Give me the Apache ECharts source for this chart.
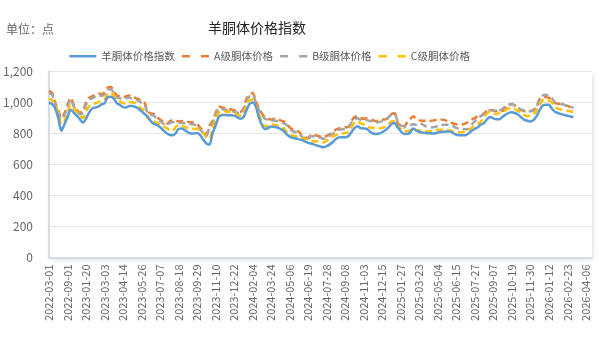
<!DOCTYPE html>
<html>
<head>
<meta charset="utf-8">
<script src="https://cdn.jsdelivr.net/npm/echarts@6/dist/echarts.min.js"></script>
<style>
  html, body { margin: 0; padding: 0; background: #fff; }
  #chart { width: 606px; height: 340px; }
</style>
</head>
<body>
<div id="chart"></div>
<script>
// Weekly (early period monthly) report dates
const dates = [
  '2022-03-01','2022-04-01','2022-05-01','2022-06-01','2022-07-01','2022-08-01',
  '2022-09-01','2022-10-01','2022-11-01','2022-12-01','2023-01-06','2023-01-13',
  '2023-01-20','2023-01-27','2023-02-03','2023-02-10','2023-02-17','2023-02-24',
  '2023-03-03','2023-03-10','2023-03-17','2023-03-24','2023-03-31','2023-04-07',
  '2023-04-14','2023-04-21','2023-04-28','2023-05-05','2023-05-12','2023-05-19',
  '2023-05-26','2023-06-02','2023-06-09','2023-06-16','2023-06-23','2023-06-30',
  '2023-07-07','2023-07-14','2023-07-21','2023-07-28','2023-08-04','2023-08-11',
  '2023-08-18','2023-08-25','2023-09-01','2023-09-08','2023-09-15','2023-09-22',
  '2023-09-29','2023-10-06','2023-10-13','2023-10-20','2023-10-27','2023-11-03',
  '2023-11-10','2023-11-17','2023-11-24','2023-12-01','2023-12-08','2023-12-15',
  '2023-12-22','2023-12-29','2024-01-05','2024-01-12','2024-01-19','2024-01-26',
  '2024-02-04','2024-02-18','2024-02-25','2024-03-03','2024-03-10','2024-03-17',
  '2024-03-24','2024-03-31','2024-04-07','2024-04-14','2024-04-21','2024-04-28',
  '2024-05-06','2024-05-13','2024-05-20','2024-05-27','2024-06-03','2024-06-11',
  '2024-06-19','2024-06-24','2024-06-30','2024-07-07','2024-07-14','2024-07-21',
  '2024-07-28','2024-08-04','2024-08-11','2024-08-18','2024-08-25','2024-09-01',
  '2024-09-08','2024-09-15','2024-09-22','2024-10-13','2024-10-20','2024-10-27',
  '2024-11-03','2024-11-10','2024-11-17','2024-11-24','2024-12-01','2024-12-08',
  '2024-12-15','2024-12-22','2024-12-29','2025-01-05','2025-01-12','2025-01-19',
  '2025-01-27','2025-02-16','2025-02-23','2025-03-02','2025-03-09','2025-03-16',
  '2025-03-23','2025-03-30','2025-04-06','2025-04-13','2025-04-20','2025-04-27',
  '2025-05-04','2025-05-11','2025-05-18','2025-05-25','2025-06-01','2025-06-08',
  '2025-06-15','2025-06-22','2025-06-29','2025-07-06','2025-07-13','2025-07-20',
  '2025-07-27','2025-08-03','2025-08-10','2025-08-17','2025-08-24','2025-08-31',
  '2025-09-07','2025-09-14','2025-09-21','2025-09-28','2025-10-05','2025-10-12',
  '2025-10-19','2025-10-26','2025-11-02','2025-11-09','2025-11-16','2025-11-23',
  '2025-11-30','2025-12-07','2025-12-14','2025-12-21','2025-12-28','2026-01-05',
  '2026-01-12','2026-01-19','2026-01-26','2026-02-02','2026-02-09','2026-02-16',
  '2026-02-23','2026-03-02','2026-03-09','2026-03-16','2026-03-23','2026-03-30',
  '2026-04-06','2026-04-13','2026-04-20'
];

// 羊胴体价格指数
const indexValues = [
  1000, 990, 962, 900, 818, 860, 905, 953, 935, 915,
  892, 870, 895, 935, 962, 968, 973, 988, 995, 1033,
  1037, 1025, 995, 985, 970, 968, 978, 978, 972, 960,
  943, 925, 908, 880, 862, 855, 840, 822, 803, 792,
  788, 800, 830, 832, 822, 808, 800, 800, 803, 790,
  760, 735, 728, 800, 850, 905, 920, 920, 918, 918,
  915, 905, 895, 905, 950, 990, 1000, 975, 905, 855,
  828, 835, 845, 842, 838, 830, 818, 795, 780, 772,
  768, 762, 758, 748, 740, 735, 728, 722, 716, 711,
  718, 730, 745, 765, 775, 776, 776, 782, 808, 835,
  847, 835, 833, 830, 812, 800, 797, 800, 808, 822,
  838, 862, 868, 840, 815, 798, 797, 805, 832, 820,
  810, 806, 803, 802, 800, 800, 806, 810, 812, 813,
  812, 803, 792, 789, 788, 789, 800, 818, 830, 840,
  858, 868, 892, 906, 898, 892, 892, 908, 922, 933,
  937, 932, 922, 905, 890, 882, 878, 885, 910, 950,
  980, 986, 985, 960, 940, 932, 925, 920, 915, 910,
  905
];

// A级胴体价格
const gradeA = [
  1075, 1062, 1000, 950, 900, 930, 985, 1030, 985, 955,
  935, 945, 1000, 1030, 1040, 1050, 1058, 1055, 1065, 1095,
  1100, 1075, 1045, 1040, 1035, 1040, 1045, 1035, 1030, 1022,
  1010, 998, 940, 930, 925, 905, 890, 875, 862, 875,
  885, 882, 878, 880, 878, 875, 872, 870, 862, 836,
  815, 795, 850, 880, 930, 975, 968, 965, 958, 955,
  950, 945, 940, 960, 1025, 1050, 1062, 1010, 965, 930,
  905, 898, 890, 895, 890, 885, 878, 868, 840, 825,
  818, 812, 785, 778, 770, 793, 790, 785, 780, 775,
  785, 795, 810, 825, 832, 835, 840, 842, 880, 905,
  910, 900, 895, 898, 890, 885, 880, 882, 888, 892,
  900, 925, 930, 868, 850, 836, 870, 890, 911, 895,
  885, 883, 883, 880, 882, 886, 890, 890, 888, 880,
  872, 866, 860, 857, 858, 865, 878, 890, 900, 911,
  915, 930, 945, 954, 950, 945, 950, 945, 970, 985,
  990, 980, 965, 952, 945, 940, 945, 952, 975, 1020,
  1035, 1035, 1030, 1020, 998, 992, 990, 985, 978, 970,
  962
];

// B级胴体价格
const gradeB = [
  1060, 1050, 990, 940, 890, 918, 972, 1018, 975, 945,
  925, 932, 985, 1018, 1028, 1038, 1045, 1042, 1052, 1080,
  1085, 1062, 1032, 1028, 1022, 1028, 1032, 1024, 1018, 1010,
  998, 985, 930, 920, 915, 895, 880, 865, 852, 864,
  874, 872, 868, 870, 866, 864, 860, 858, 850, 826,
  805, 785, 838, 868, 918, 962, 958, 955, 948, 944,
  940, 934, 930, 950, 1012, 1040, 1050, 1000, 955, 920,
  895, 888, 880, 884, 880, 875, 866, 856, 830, 815,
  808, 802, 778, 770, 762, 784, 781, 776, 771, 766,
  776, 786, 800, 815, 824, 826, 830, 834, 870, 892,
  898, 888, 884, 886, 880, 876, 872, 874, 878, 884,
  905, 922, 926, 880, 852, 848, 847, 852, 860, 857,
  866, 860, 848, 842, 840, 842, 848, 852, 857, 857,
  854, 848, 836, 832, 829, 828, 830, 858, 878, 900,
  912, 925, 940, 950, 948, 944, 950, 958, 978, 986,
  988, 982, 968, 955, 948, 944, 943, 948, 965, 1025,
  1045, 1050, 1040, 1028, 1000, 995, 990, 985, 978, 972,
  965
];

// C级胴体价格
const gradeC = [
  1027, 1015, 985, 935, 862, 880, 930, 985, 960, 940,
  915, 900, 945, 975, 990, 995, 1002, 1010, 1020, 1055,
  1062, 1045, 1018, 1008, 995, 995, 1004, 1002, 995, 975,
  960, 943, 900, 885, 877, 870, 857, 845, 836, 822,
  818, 840, 855, 852, 842, 836, 832, 830, 830, 812,
  800, 775, 765, 835, 890, 935, 945, 943, 940, 938,
  932, 922, 915, 925, 990, 1015, 1020, 985, 930, 870,
  845, 850, 860, 857, 850, 845, 835, 812, 795, 786,
  782, 778, 772, 765, 760, 748, 750, 750, 745, 742,
  752, 770, 782, 790, 796, 800, 803, 810, 840, 870,
  877, 865, 860, 855, 838, 836, 833, 834, 836, 845,
  860, 878, 880, 850, 830, 815, 814, 820, 835, 822,
  820, 818, 815, 814, 814, 820, 825, 825, 824, 822,
  820, 814, 812, 808, 808, 814, 820, 838, 852, 860,
  880, 900, 930, 940, 932, 925, 932, 938, 950, 962,
  965, 958, 945, 935, 920, 912, 915, 925, 945, 985,
  1015, 1018, 1012, 1000, 972, 960, 955, 952, 948, 943,
  938
];

const seriesNames = ['羊胴体价格指数', 'A级胴体价格', 'B级胴体价格', 'C级胴体价格'];
const seriesColors = ['#5b9bd5', '#ed7d31', '#a5a5a5', '#ffc000'];
const seriesData = [indexValues, gradeA, gradeB, gradeC];

const FONT = '"Noto Sans CJK SC", "Microsoft YaHei", sans-serif';

const chart = echarts.init(document.getElementById('chart'), null, { renderer: 'canvas' });

chart.setOption({
  animation: false,
  textStyle: { fontFamily: FONT },
  title: [
    {
      text: '羊胴体价格指数',
      left: 203,
      top: 16,
      textStyle: { fontSize: 14, fontWeight: 'normal', color: '#222', fontFamily: FONT }
    },
    {
      text: '单位：点',
      left: 1,
      top: 18,
      textStyle: { fontSize: 12, fontWeight: 'normal', color: '#666', fontFamily: FONT }
    }
  ],
  legend: {
    left: 63,
    top: 46,
    itemWidth: 27,
    itemHeight: 10,
    itemGap: 6,
    itemStyle: { opacity: 0 },
    textStyle: { fontSize: 10.5, color: '#595959', fontFamily: FONT },
    data: seriesNames.map((name, k) => ({
      name,
      lineStyle: { width: 2.5, type: k === 0 ? 'solid' : [8, 11] }
    }))
  },
  grid: {
    left: 49,
    right: 14,
    top: 71.5,
    bottom: 82.5,
    show: true,
    backgroundColor: '#fff',
    borderWidth: 0,
    shadowColor: 'rgba(110,130,160,0.28)',
    shadowBlur: 5,
    shadowOffsetX: 1,
    shadowOffsetY: 2
  },
  xAxis: {
    type: 'category',
    data: dates,
    boundaryGap: false,
    axisLine: { show: true, lineStyle: { color: '#d5dde8', width: 2 } },
    axisTick: { show: false },
    axisLabel: {
      interval: 5,
      rotate: 90,
      margin: 7,
      fontSize: 11,
      color: '#666',
      fontFamily: FONT
    },
    splitLine: { show: false }
  },
  yAxis: {
    type: 'value',
    min: 0,
    max: 1200,
    interval: 200,
    axisLine: { show: true, lineStyle: { color: '#d5dde8', width: 2 } },
    axisTick: { show: false },
    axisLabel: {
      margin: 16,
      fontSize: 12,
      color: '#666',
      fontFamily: FONT,
      formatter: v => v.toLocaleString('en-US')
    },
    splitLine: { lineStyle: { color: '#e6e6e6', width: 1 } }
  },
  series: seriesNames.map((name, k) => ({
    name,
    type: 'line',
    data: seriesData[k],
    smooth: 0.3,
    showSymbol: false,
    symbol: 'none',
    color: seriesColors[k],
    lineStyle: {
      width: 2.5,
      color: seriesColors[k],
      type: k === 0 ? 'solid' : [7, 4]
    },
    z: k === 0 ? 3 : 2
  }))
});
</script>
</body>
</html>
